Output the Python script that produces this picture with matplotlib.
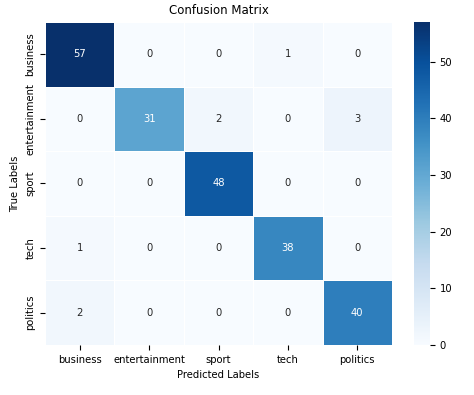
import numpy as np
import matplotlib
matplotlib.use("Agg")
import matplotlib.pyplot as plt
import seaborn as sns

labels = ["business", "entertainment", "sport", "tech", "politics"]
cm = np.array([
    [57, 0, 0, 1, 0],
    [0, 31, 2, 0, 3],
    [0, 0, 48, 0, 0],
    [1, 0, 0, 38, 0],
    [2, 0, 0, 0, 40],
])

plt.rcParams['font.size'] = 7.2
fig = plt.figure(figsize=(4.74, 3.95), dpi=100)
ax = fig.add_axes([0.095, 0.127, 0.732, 0.817])
cax = fig.add_axes([0.873, 0.127, 0.034, 0.817])

sns.heatmap(cm, annot=True, fmt="d", cmap="Blues", linewidths=0.5, linecolor="white",
            xticklabels=labels, yticklabels=labels, ax=ax, cbar_ax=cax,
            annot_kws={"fontsize": 7.2})
ax.set_yticklabels(labels, rotation=90, va="center")
ax.set_title("Confusion Matrix", fontsize=8.5)
ax.set_xlabel("Predicted Labels", fontsize=7.2)
ax.set_ylabel("True Labels", fontsize=7.2)
cax.tick_params(labelsize=7.2)

fig.savefig("out.png", dpi=100)
